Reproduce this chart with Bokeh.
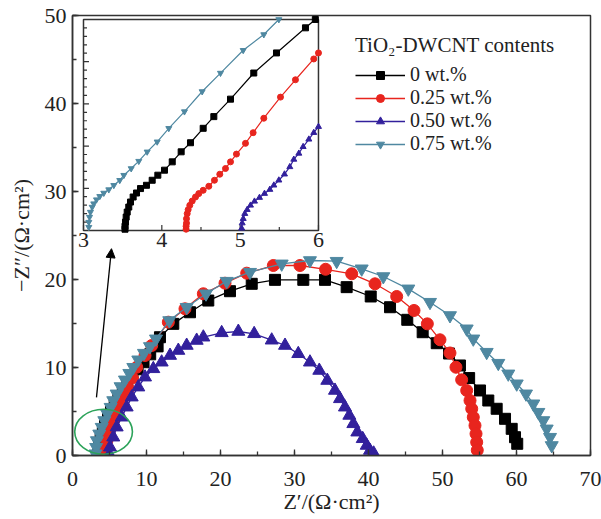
from bokeh.plotting import figure
from bokeh.models import Range1d, SingleIntervalTicker, Legend, LegendItem, Arrow, NormalHead
from bokeh.embed import file_html
from bokeh.resources import INLINE
from bokeh.core.properties import value

FONT = "Liberation Serif"

# ---------------- data (main plot) ----------------
labels = ["0 wt.%", "0.25 wt.%", "0.50 wt.%", "0.75 wt.%"]
colors = ["#000000", "#e8251e", "#32209c", "#4f88a1"]
markers = ["square", "circle", "triangle", "inverted_triangle"]

x_0 = [3.5, 3.6, 3.8, 4.1, 4.4, 4.8, 5.2, 5.7, 6.2, 6.8, 7.4, 8.1, 8.8, 9.6, 10.5, 11.5,
       11.82, 13.62, 15.88, 18.35, 21.28, 24.22, 27.36, 31.19, 34.12, 37.05, 40.3, 42.91,
       45.24, 47.32, 49.22, 50.88, 52.36, 53.6, 55.07, 56.19, 57.32, 58.45, 59.35, 59.8, 60.1]
y_0 = [0.2, 1.0, 1.8, 2.6, 3.4, 4.2, 5.0, 5.8, 6.6, 7.4, 8.2, 9.0, 9.8, 10.6, 11.5, 12.4,
       13.44, 14.96, 16.28, 17.61, 18.67, 19.51, 19.96, 19.96, 19.96, 19.13, 18.07, 16.85,
       15.42, 14.01, 12.76, 11.59, 10.23, 8.8, 7.39, 6.25, 5.31, 4.17, 3.03, 2.08, 1.33]

x_25 = [4.3, 4.45, 4.65, 4.95, 5.25, 5.6, 6.0, 6.4, 6.87, 7.54, 8.1, 8.68, 9.8, 10.7,
        12.95, 15.2, 17.68, 20.61, 23.54, 27.14, 30.74, 34.2, 37.73, 40.88, 43.81, 46.15,
        47.95, 49.66, 51.01, 51.82, 52.59, 53.27, 53.72, 53.95, 54.16, 54.39, 54.53, 54.62, 54.7]
y_25 = [0.1, 0.9, 1.7, 2.5, 3.3, 4.1, 4.9, 5.7, 6.6, 7.6, 8.8, 10.03, 11.36, 12.5,
        15.15, 16.67, 18.38, 19.58, 20.72, 21.59, 21.59, 21.16, 20.65, 19.51, 18.07, 16.48,
        14.96, 13.15, 11.65, 10.03, 8.6, 7.39, 6.25, 5.31, 4.35, 3.41, 2.47, 1.51, 0.6]

x_50 = [5.0, 5.07, 5.51, 5.97, 6.65, 7.32, 8.0, 8.89, 9.8, 10.92, 12.05, 13.18, 14.3, 15.43,
        16.78, 17.68, 20.16, 22.41, 24.55, 26.92, 28.72, 30.51, 32.09, 33.35, 34.43, 35.47,
        36.15, 36.82, 37.41, 37.95, 38.49, 39.22, 39.76, 40.2, 40.7]
y_50 = [0.1, 0.94, 2.08, 3.22, 4.35, 5.49, 6.63, 7.77, 8.9, 9.85, 10.6, 11.36, 11.93, 12.5,
        13.07, 13.44, 13.94, 14.09, 13.83, 13.1, 12.5, 11.56, 10.6, 9.66, 8.52, 7.39,
        6.44, 5.49, 4.55, 3.6, 2.65, 1.9, 1.14, 0.57, 0.25]

x_75 = [3.1, 3.2, 3.3, 3.62, 3.95, 4.30, 4.70, 5.16, 5.51, 5.97, 6.50, 7.09, 7.68, 8.22,
        8.89, 9.66, 10.47, 11.28, 13.08, 15.43, 18.04, 20.84, 23.99, 28.27, 32.09, 35.70,
        39.08, 42.0, 45.38, 48.31, 51.01, 53.27, 54.16, 55.97, 57.54, 58.89, 60.03, 61.28,
        62.27, 62.95, 63.62, 64.08, 64.53, 64.76]
y_75 = [0.2, 0.94, 1.7, 2.46, 3.22, 3.98, 4.74, 5.49, 6.25, 7.01, 7.84, 8.60, 9.35, 10.03,
        10.88, 11.63, 12.39, 13.26, 15.34, 16.85, 18.38, 19.81, 20.83, 21.78, 22.16, 22.08,
        21.22, 20.34, 18.94, 17.42, 15.91, 14.40, 13.26, 11.74, 10.49, 9.28, 8.15, 7.01,
        5.88, 4.92, 3.98, 3.03, 2.08, 1.14]

# ---------------- data (inset) ----------------
ix_0 = [3.53, 3.53, 3.536, 3.545, 3.558, 3.578, 3.600, 3.634, 3.677, 3.728, 3.804, 3.877,
        3.949, 4.034, 4.133, 4.247, 4.366, 4.528, 4.664, 4.877, 5.174, 5.464, 5.834, 5.96]
iy_0 = [0.03, 0.1, 0.198, 0.317, 0.436, 0.555, 0.674, 0.793, 0.888, 0.993, 1.071, 1.190,
        1.310, 1.429, 1.626, 1.864, 2.079, 2.421, 2.698, 3.112, 3.731, 4.207, 4.802, 5.0]

ix_25 = [4.31, 4.31, 4.315, 4.315, 4.324, 4.336, 4.357, 4.388, 4.430, 4.472, 4.528, 4.600,
         4.672, 4.740, 4.813, 4.877, 4.953, 5.068, 5.166, 5.302, 5.515, 5.706, 5.940, 6.0]
iy_25 = [0.03, 0.1, 0.174, 0.279, 0.398, 0.493, 0.595, 0.698, 0.793, 0.874, 0.952, 1.048,
         1.190, 1.333, 1.469, 1.626, 1.810, 2.064, 2.317, 2.660, 3.160, 3.571, 4.064, 4.207]

ix_50 = [5.02, 5.026, 5.039, 5.059, 5.090, 5.132, 5.183, 5.247, 5.311, 5.379, 5.430, 5.494,
         5.566, 5.634, 5.685, 5.749, 5.804, 5.877, 5.940, 6.0]
iy_50 = [0.05, 0.174, 0.279, 0.398, 0.493, 0.595, 0.69, 0.779, 0.874, 0.969, 1.071, 1.190,
         1.333, 1.507, 1.683, 1.826, 1.983, 2.160, 2.317, 2.460]

ix_75 = [3.068, 3.068, 3.077, 3.089, 3.111, 3.131, 3.166, 3.208, 3.259, 3.323, 3.387, 3.463,
         3.515, 3.609, 3.706, 3.813, 3.941, 4.089, 4.289, 4.515, 4.749, 5.039, 5.302, 5.494]
iy_75 = [0.079, 0.198, 0.317, 0.436, 0.555, 0.636, 0.731, 0.810, 0.888, 0.969, 1.071, 1.190,
         1.310, 1.469, 1.643, 1.864, 2.102, 2.421, 2.817, 3.293, 3.730, 4.270, 4.643, 5.0]

inset_xticks_major = [3, 4, 5, 6]
inset_xticks_minor = [3.5, 4.5, 5.5]
inset_xtick_labels = ["3", "4", "5", "6"]
inset_yticks_major = [1, 2, 3, 4]
inset_yticks_minor = [0.2, 0.4, 0.6, 0.8, 1.2, 1.4, 1.6, 1.8, 2.2, 2.4, 2.6, 2.8,
                      3.2, 3.4, 3.6, 3.8, 4.2, 4.4, 4.6, 4.8]

# annotations
arrow_start = (3.24, 6.6)
arrow_end = (5.27, 23.5)
circle_center = (4.2, 2.7)
circle_size = (7.8, 5.1)

# ---------------- figure ----------------
p = figure(width=601, height=519, x_range=Range1d(0, 70), y_range=Range1d(0, 50),
           output_backend="svg", toolbar_location=None,
           min_border_left=72, min_border_right=11, min_border_top=15, min_border_bottom=64)
p.grid.visible = False
p.outline_line_color = "#333333"
p.outline_line_width = 1.5
p.background_fill_color = "white"
p.border_fill_color = "white"

for ax in (p.xaxis[0], p.yaxis[0]):
    ax.ticker = SingleIntervalTicker(interval=10, num_minor_ticks=2)
    ax.major_tick_in = 6
    ax.major_tick_out = 0
    ax.minor_tick_in = 4
    ax.minor_tick_out = 0
    ax.axis_line_color = "#333333"
    ax.axis_line_width = 1.5
    ax.major_tick_line_color = "#333333"
    ax.minor_tick_line_color = "#333333"
    ax.major_tick_line_width = 1.3
    ax.minor_tick_line_width = 1.3
    ax.major_label_text_font = FONT
    ax.major_label_text_font_size = "22px"
    ax.major_label_text_color = "#222222"
    ax.axis_label_text_font = FONT
    ax.axis_label_text_font_size = "22px"
    ax.axis_label_text_font_style = "normal"
    ax.axis_label_text_color = "#222222"

p.xaxis.axis_label = "Z\u2032/(\u03a9\u00b7cm\u00b2)"
p.yaxis.axis_label = "\u2212Z\u2033/(\u03a9\u00b7cm\u00b2)"
p.xaxis.major_label_standoff = 16
p.yaxis.major_label_standoff = 6
p.xaxis.axis_label_standoff = 0
p.yaxis.axis_label_standoff = 8

series = [(x_0, y_0, ix_0, iy_0, 11), (x_25, y_25, ix_25, iy_25, 12),
          (x_50, y_50, ix_50, iy_50, 13), (x_75, y_75, ix_75, iy_75, 13)]

items = []
for (xs, ys, ixs, iys, sz), lab, col, mk in zip(series, labels, colors, markers):
    lr = p.line(xs, ys, line_color=col, line_width=1.3)
    sr = p.scatter(xs, ys, marker=mk, size=sz, fill_color=col, line_color=col)
    items.append(LegendItem(label=lab, renderers=[lr, sr]))

# circle + arrow
p.ellipse(x=[circle_center[0]], y=[circle_center[1]], width=[circle_size[0]],
          height=[circle_size[1]], fill_color=None, line_color="#2ca35a", line_width=1.6)
p.add_layout(Arrow(end=NormalHead(size=9, fill_color="black", line_color="black"),
                   x_start=arrow_start[0], y_start=arrow_start[1],
                   x_end=arrow_end[0], y_end=arrow_end[1],
                   line_color="black", line_width=1.3))

# ---------------- inset ----------------
ins = p.subplot(x_source=Range1d(3, 6), y_source=Range1d(0, 5),
                x_target=Range1d(1.486, 33.24), y_target=Range1d(25.57, 49.55))
ins.quad(left=[3], right=[6], bottom=[0], top=[5], fill_color="white",
         line_color="#333333", line_width=1.5)
ins.segment(x0=inset_xticks_major, y0=[0] * 4, x1=inset_xticks_major, y1=[0.13] * 4,
            line_color="#333333", line_width=1.2)
ins.segment(x0=inset_xticks_minor, y0=[0] * 3, x1=inset_xticks_minor, y1=[0.08] * 3,
            line_color="#333333", line_width=1.2)
ins.segment(x0=[3] * len(inset_yticks_major), y0=inset_yticks_major,
            x1=[3.07] * len(inset_yticks_major), y1=inset_yticks_major,
            line_color="#333333", line_width=1.2)
ins.segment(x0=[3] * len(inset_yticks_minor), y0=inset_yticks_minor,
            x1=[3.045] * len(inset_yticks_minor), y1=inset_yticks_minor,
            line_color="#333333", line_width=1.2)
ins.text(x=inset_xticks_major, y=[0] * 4, text=inset_xtick_labels,
         text_font=value(FONT), text_font_size="22px", text_color="#222222",
         text_align="center", text_baseline="top", y_offset=3)

for (xs, ys, ixs, iys, sz), col, mk in zip(series, colors, markers):
    ins.line(ixs, iys, line_color=col, line_width=1.2)
    ins.scatter(ixs, iys, marker=mk, size=6, fill_color=col, line_color=col)

legend = Legend(items=items, location=(283, 300), title="TiO\u2082-DWCNT contents",
                title_text_font=FONT, title_text_font_size="21px",
                title_text_font_style="normal", title_text_color="#222222",
                label_text_font=FONT, label_text_font_size="20px", label_text_color="#222222",
                glyph_width=50, glyph_height=20, label_height=20, spacing=0,
                padding=4, margin=0, title_standoff=5,
                border_line_color=None, background_fill_alpha=0)
p.add_layout(legend)

open("out.html", "w").write(file_html(p, INLINE))
